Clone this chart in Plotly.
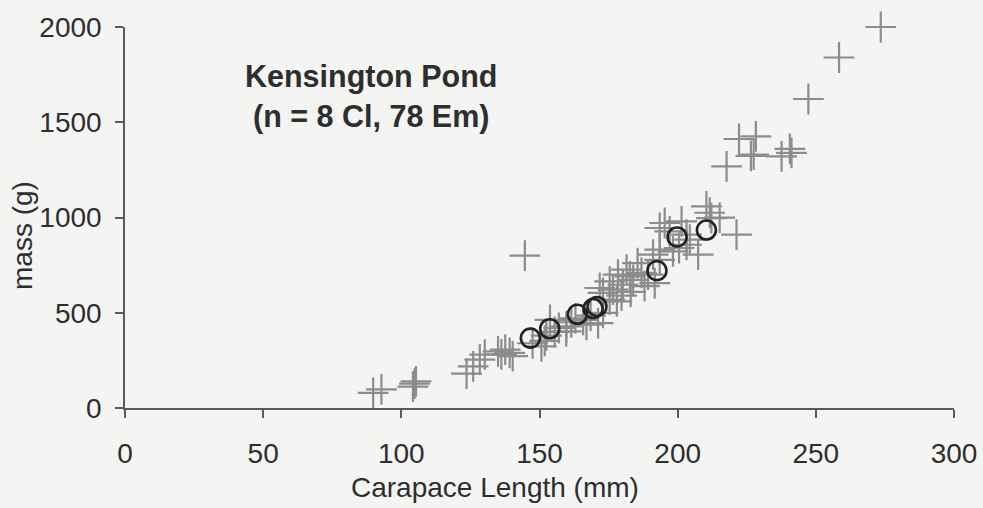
import plotly.graph_objects as go

# Em (crosses)
em_length = [89.8, 92.8, 104.2, 104.8, 105.3, 123.6, 126.0, 128.4, 130.2, 135.0,
             136.2, 137.6, 139.2, 140.3, 144.7, 147.5, 150.7, 151.9, 152.5, 153.8,
             155.5, 157.0, 159.7, 159.7, 161.5, 163.0, 165.8, 167.0, 168.5, 171.2,
             173.0, 171.8, 173.0, 175.4, 175.4, 176.6, 178.4, 179.7, 180.2, 181.5,
             182.7, 183.9, 186.9, 188.0, 189.3, 191.1, 191.7, 193.5, 193.5, 193.5,
             195.3, 197.1, 198.3, 201.4, 203.2, 203.2, 204.4, 207.4, 210.4, 211.6,
             212.2, 215.2, 221.3, 217.7, 222.2, 226.5, 228.3, 237.6, 240.6, 241.2,
             247.3, 258.4, 273.5, 227.5, 185.5, 178.0, 183.0, 200.5]
em_mass = [79, 98, 112, 128, 140, 180, 218, 254, 280, 297,
           282, 306, 289, 272, 800, 340, 323, 352, 380, 463,
           400, 420, 429, 402, 450, 470, 463, 437, 485, 446,
           499, 630, 604, 569, 665, 621, 700, 590, 647, 726,
           691, 673, 709, 640, 700, 805, 656, 778, 831, 945,
           971, 927, 822, 980, 857, 910, 884, 805, 1058, 1025,
           997, 999, 910, 1268, 1412, 1324, 1426, 1321, 1360, 1339,
           1622, 1840, 2000, 1330, 760, 560, 610, 840]

# Cl (circles)
cl_length = [146.7, 153.7, 163.7, 169.4, 170.8, 192.5, 199.8, 210.4]
cl_mass = [367, 416, 492, 522, 533, 721, 898, 934]

x_ticks = [0, 50, 100, 150, 200, 250, 300]
y_ticks = [0, 500, 1000, 1500, 2000]

FONT = "Liberation Sans, Arial, sans-serif"
TXT = "#2e2e2e"
AX = "#5a5a5a"
BG = "#f4f4f2"

W, H = 983, 508
ML, MR, MT, MB = 125, 29, 27, 100
pw = W - ML - MR
ph = H - MT - MB

fig = go.Figure()
fig.add_trace(go.Scatter(
    x=em_length, y=em_mass, mode="markers", name="Em",
    marker=dict(symbol="cross-thin-open", size=22, color="#8c8c8c",
                line=dict(color="#8c8c8c", width=2.2)),
    cliponaxis=False,
))
fig.add_trace(go.Scatter(
    x=cl_length, y=cl_mass, mode="markers", name="Cl",
    marker=dict(symbol="circle-open", size=19, color="#222222",
                line=dict(color="#222222", width=2.6)),
    cliponaxis=False,
))

fig.update_layout(
    width=W, height=H,
    margin=dict(l=ML, r=MR, t=MT, b=MB, autoexpand=False),
    paper_bgcolor=BG, plot_bgcolor=BG,
    showlegend=False,
    font=dict(family=FONT, size=28, color=TXT),
    annotations=[
        dict(text="<b>Kensington Pond</b><br><b>(n = 8 Cl, 78 Em)</b>",
             x=89, y=1633, xref="x", yref="y", showarrow=False,
             xanchor="center", yanchor="middle",
             font=dict(family=FONT, size=30.5, color=TXT), align="center"),
        dict(text="Carapace Length (mm)",
             x=(495 - ML) / pw, y=(H - MB - 487) / ph, xref="paper", yref="paper",
             xanchor="center", yanchor="middle",
             showarrow=False, font=dict(family=FONT, size=28, color=TXT)),
        dict(text="mass (g)",
             x=(22 - ML) / pw, y=(H - MB - 236) / ph, xref="paper", yref="paper",
             xanchor="center", yanchor="middle",
             showarrow=False, textangle=-90, font=dict(family=FONT, size=28, color=TXT)),
    ],
)

fig.update_xaxes(range=[0, 300], tickvals=x_ticks, ticktext=[str(v) for v in x_ticks],
                 automargin=False,
                 showgrid=False, zeroline=False, showline=True, linecolor=AX, linewidth=1.5,
                 ticks="outside", ticklen=8, tickwidth=1.5, tickcolor=AX,
                 tickfont=dict(family=FONT, size=28, color=TXT), ticklabelstandoff=12)
fig.update_yaxes(range=[0, 2000], tickvals=y_ticks, ticktext=[str(v) for v in y_ticks],
                 automargin=False,
                 showgrid=False, zeroline=False, showline=True, linecolor=AX, linewidth=1.5,
                 ticks="outside", ticklen=8, tickwidth=1.5, tickcolor=AX,
                 tickfont=dict(family=FONT, size=28, color=TXT), ticklabelstandoff=8)

fig.write_html("out.html", config={"displayModeBar": False},
               post_script="document.body.style.margin='0';document.body.style.background='%s';" % BG)
